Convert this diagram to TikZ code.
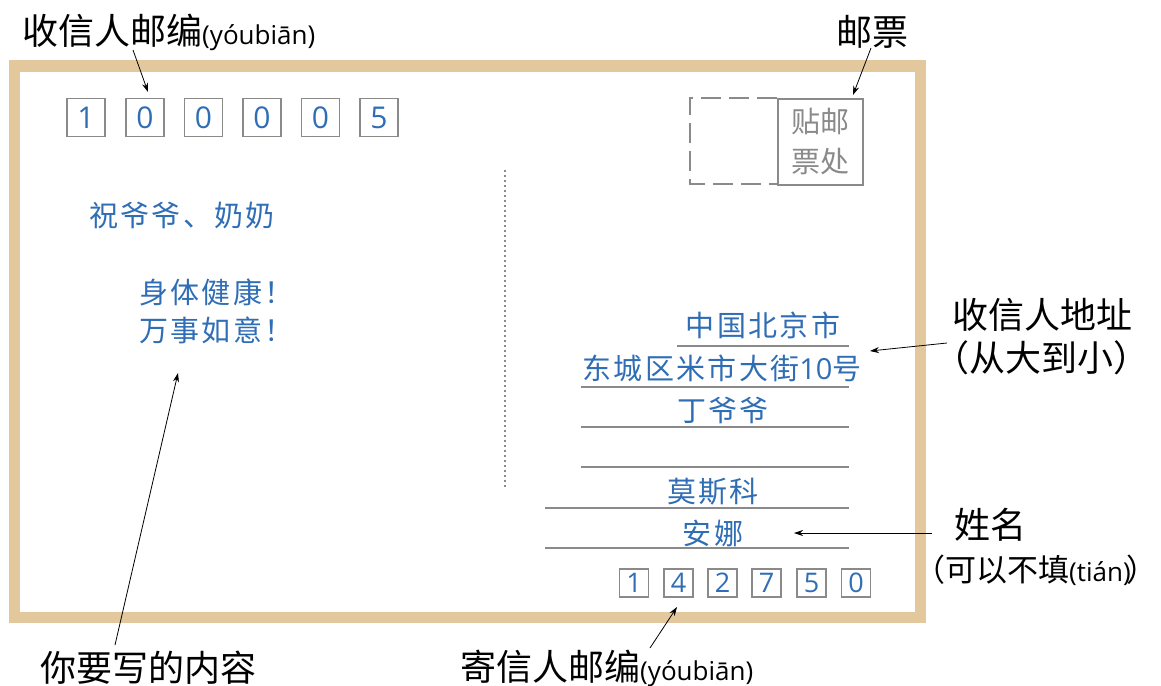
\documentclass[tikz,border=0pt]{standalone}
\usepackage{fontspec}
\newfontfamily\cjk{Noto Sans CJK SC}
\newfontfamily\cjksp{Noto Sans CJK SC}[LetterSpace=8]
\newfontfamily\pyf{Open Sans}
\usetikzlibrary{arrows.meta}
\definecolor{cardtan}{HTML}{E3C79D}
\definecolor{inkblue}{HTML}{2F6DB5}
\definecolor{boxgray}{HTML}{8A8A8A}
\newcommand{\pinyin}[1]{{\pyf\fontsize{26}{30}\selectfont #1}}
\tikzset{
  lbl/.style={font=\cjk\fontsize{36}{42}\selectfont, text=black, inner sep=0pt},
  content/.style={font=\cjksp\fontsize{29}{36}\selectfont, text=inkblue, inner sep=0pt},
  bigdigit/.style={draw=boxgray, line width=1.6, minimum width=38, minimum height=38, inner sep=0pt, text=inkblue, font=\pyf\fontsize{30}{30}\selectfont},
  smalldigit/.style={draw=boxgray, line width=1.6, minimum width=29, minimum height=28, inner sep=0pt, text=inkblue, font=\pyf\fontsize{27}{27}\selectfont},
  arr/.style={-{Stealth[length=9,width=6]}, line width=0.8, black},
  addrline/.style={draw=boxgray, line width=1.6},
}
\begin{document}
\begin{tikzpicture}[x=1pt,y=-1pt]
\useasboundingbox (0,0) rectangle (1161,685);
% card frame
\draw[cardtan, line width=11] (14,66) rectangle (920,617.5);
% top labels
\node[lbl, anchor=west] (lblrecv) at (22,32) {收信人邮编\pinyin{(yóubiān)}};
\node[lbl] (lblstamp) at (872,32) {邮票};
% top postcode
\foreach \d/\x [count=\i] in {1/86,0/145,0/203.5,0/262,0/320.5,5/379}
  \node[bigdigit] (tb\i) at (\x,117.5) {\d};
\coordinate (a1s) at (133,50);
\coordinate (a1e) at (148,92);
\draw[arr] (a1s) -- (a1e);
% stamp
\draw[boxgray, line width=1.8, dash pattern=on 20 off 8] (777,98) -- (690,98) -- (690,184) -- (777,184);
\node[draw=boxgray, line width=1.8, minimum width=85, minimum height=86, inner sep=0pt, anchor=north west,
      align=center, text=boxgray, font=\cjk\fontsize{29}{40}\selectfont] (stamp) at (777,98) {贴邮\\票处};
\coordinate (a2s) at (871,48);
\coordinate (a2e) at (853,95);
\draw[arr] (a2s) -- (a2e);
% divider
\draw[boxgray, line width=1.4, dash pattern=on 1.5 off 3.5] (505,170) -- (505,487);
% message
\node[content, anchor=west] (msg1) at (89,215) {祝爷爷、奶奶};
\node[content, anchor=west] (msg2) at (139,292) {身体健康！};
\node[content, anchor=west] (msg3) at (139,330) {万事如意！};
% address
\node[content] (ad1) at (763,325) {中国北京市};
\draw[addrline] (677,346) -- (849,346);
\node[content] (ad2) at (722,368) {东城区米市大街{\pyf 10}号};
\draw[addrline] (581,387) -- (849,387);
\node[content] (ad3) at (723,410) {丁爷爷};
\draw[addrline] (581,427) -- (849,427);
\draw[addrline] (581,467) -- (849,467);
\node[content] (ad4) at (713,492) {莫斯科};
\draw[addrline] (545,508) -- (849,508);
\node[content] (ad5) at (713,533) {安娜};
\draw[addrline] (545,548) -- (849,548);
% bottom postcode
\foreach \d/\x [count=\i] in {1/634,4/678.5,2/722.5,7/766.5,5/811.5,0/856}
  \node[smalldigit] (bb\i) at (\x,583) {\d};
% right labels
\node[lbl] (lbladdr) at (1042,315) {收信人地址};
\node[lbl] (lbladdr2) at (1041,358) {（从大到小）};
\coordinate (a3s) at (947,343);
\coordinate (a3e) at (870,351);
\draw[arr] (a3s) -- (a3e);
\node[lbl] (lblname) at (990,525) {姓名};
\node[lbl, anchor=west, font=\cjk\fontsize{31}{38}\selectfont] (lblname2) at (914,570) {（可以不填\pinyin{(tián)}\kern-4pt）\kern-16pt};
\coordinate (a4s) at (932,533);
\coordinate (a4e) at (794,533);
\draw[arr] (a4s) -- (a4e);
% bottom labels
\node[lbl, anchor=west] (lblsend) at (460,668) {寄信人邮编\pinyin{(yóubiān)}};
\coordinate (a5s) at (650,648);
\coordinate (a5e) at (677,607);
\draw[arr] (a5s) -- (a5e);
\node[lbl, anchor=west] (lblcontent) at (40,668) {你要写的内容};
\coordinate (a6s) at (115,645);
\coordinate (a6e) at (178,373);
\draw[arr] (a6s) -- (a6e);
\end{tikzpicture}
\end{document}
